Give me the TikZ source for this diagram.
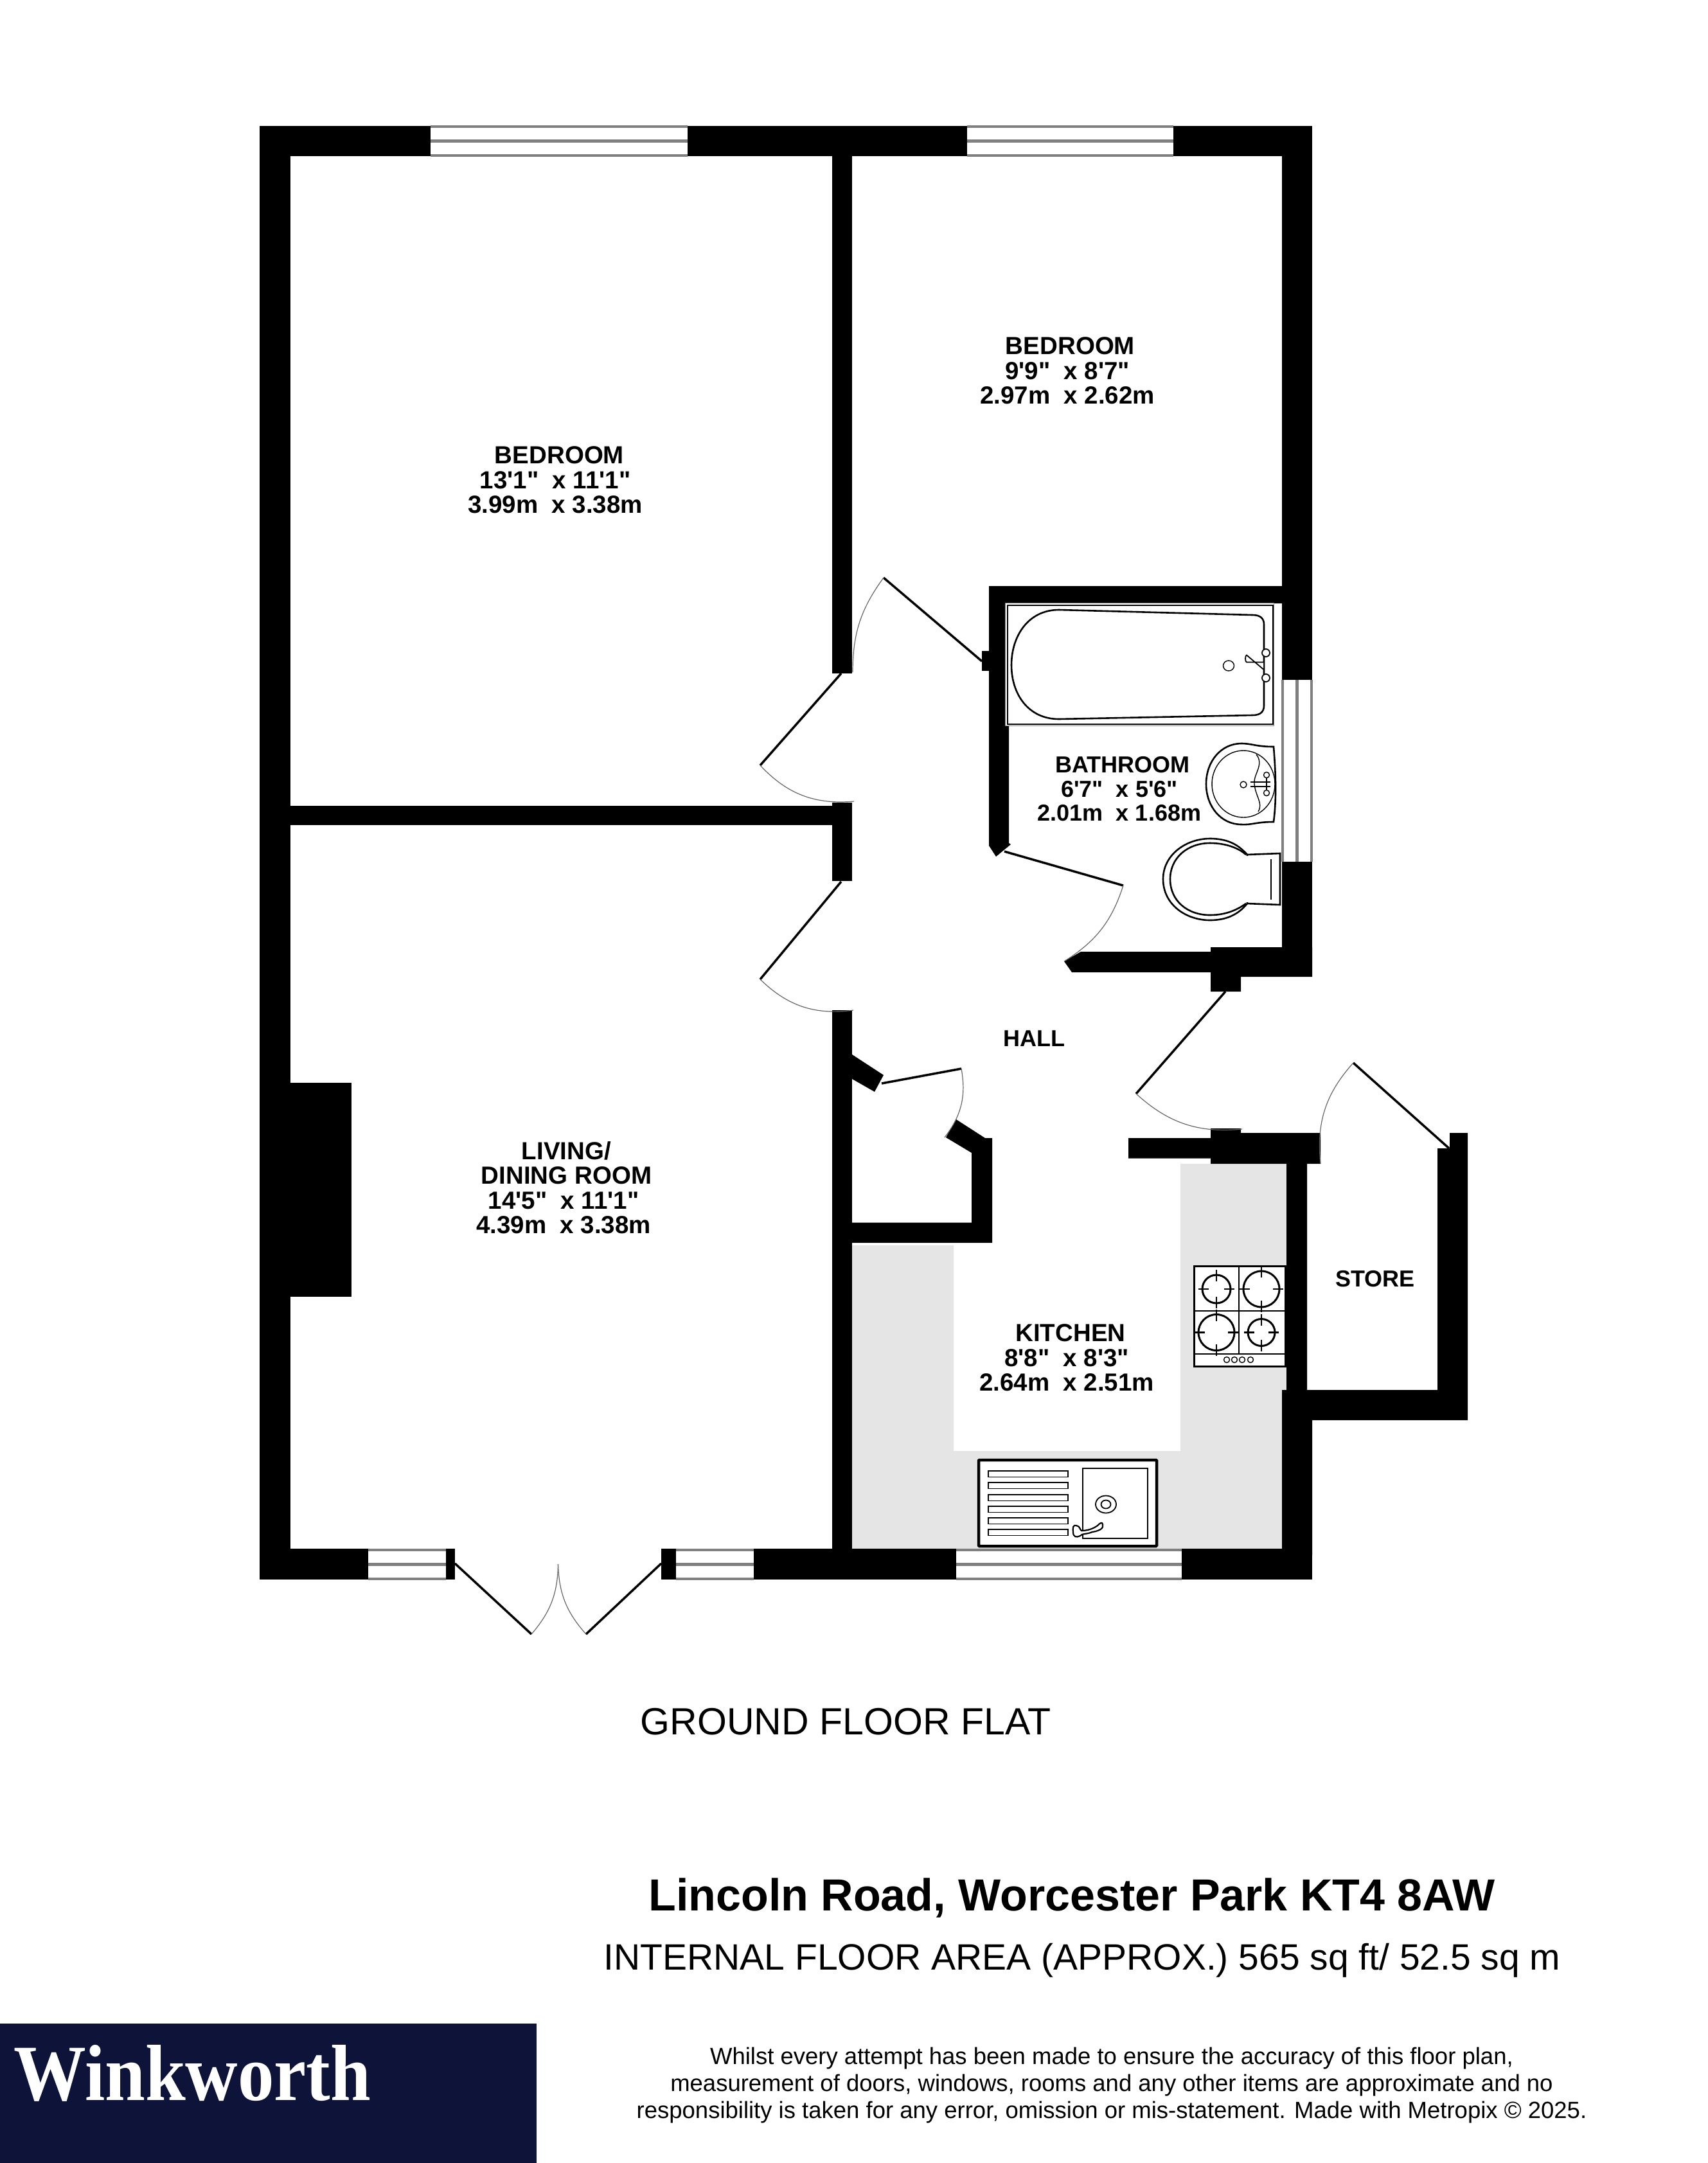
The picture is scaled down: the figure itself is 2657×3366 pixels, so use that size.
\documentclass[tikz,border=0pt]{standalone}
\usepackage{fontspec}
\usepackage{graphicx}
\setmainfont{Liberation Sans}
\newfontfamily\plainfont{Liberation Sans}
\newfontfamily\logofont{Liberation Serif}
\definecolor{navy}{HTML}{0E1339}
\definecolor{counter}{HTML}{E5E5E5}
\definecolor{glaze}{HTML}{808080}
\tikzset{
  wall/.style={fill=black},
  doorleaf/.style={draw=black,line width=3.5pt},
  doorarc/.style={draw=black!60,line width=1.2pt},
  glass/.style={draw=glaze,line width=4.5pt},
  fixture/.style={draw=black,line width=2.6pt},
  fixturethin/.style={draw=black,line width=1.4pt},
  roomlabel/.style={font=\fontsize{38.5}{38.5}\selectfont\plainfont\bfseries,align=center,inner sep=0pt},
  smalllabel/.style={font=\fontsize{36}{37.5}\selectfont\plainfont\bfseries,align=center,inner sep=0pt},
}
\newcommand{\hwindow}[3]{% x1,x2,ytop
  \fill[white] (#1,#3) rectangle (#2,#3+47);
  \draw[glass] (#1,#3+1) -- (#2,#3+1) (#1,#3+23.5) -- (#2,#3+23.5) (#1,#3+46) -- (#2,#3+46);
}
\begin{document}
\begin{tikzpicture}[x=1pt,y=-1pt]
\useasboundingbox (0,0) rectangle (2657,3366);
\fill[white] (0,0) rectangle (2657,3366);
% counters
\fill[counter] (1326,1938) -- (1484,1938) -- (1484,2258) -- (1837,2258) -- (1837,1811) -- (2002,1811) -- (2002,2163) -- (1995,2163) -- (1995,2410) -- (1326,2410) -- cycle;
% outer walls
\fill[wall] (404,196) rectangle (670,243);
\fill[wall] (1070,196) rectangle (1505,243);
\fill[wall] (1826,196) rectangle (2042,243);
\fill[wall] (404,196) rectangle (452,2458);
\fill[wall] (404,2410) rectangle (573,2458);
\fill[wall] (694,2410) rectangle (708,2458);
\fill[wall] (1029,2410) rectangle (1052,2458);
\fill[wall] (1173,2410) rectangle (1488,2458);
\fill[wall] (1839,2410) rectangle (2042,2458);
\fill[wall] (1995,196) rectangle (2042,1058);
\fill[wall] (1995,1341) rectangle (2042,1520);
% inner walls
\fill[wall] (1295,243) rectangle (1326,1048);
\fill[wall] (452,1254) rectangle (1295,1284);
\fill[wall] (1295,1249) rectangle (1326,1371);
\fill[wall] (1295,1572) rectangle (1326,2410);
\fill[wall] (547,1685) rectangle (452,2018);
% bathroom walls
\fill[wall] (1539,912) rectangle (1995,939);
\fill[wall] (1539,912) -- (1570,912) -- (1570,1312) -- (1573,1314) -- (1550,1333) -- (1539,1316) -- cycle;
\fill[wall] (1528,1013) rectangle (1539,1044);
\fill[wall] (1682,1481) -- (1884,1481) -- (1884,1474) -- (2042,1474) -- (2042,1520) -- (1931,1520) -- (1931,1543) -- (1884,1543) -- (1884,1513) -- (1668,1513) -- (1656,1496) -- cycle;
% cupboard walls
\fill[wall] (1326,1641) -- (1375,1673) -- (1361,1699) -- (1326,1679) -- cycle;
\fill[wall] (1488,1742) -- (1533,1771) -- (1544,1771) -- (1544,1934) -- (1326,1934) -- (1326,1902.5) -- (1512,1902.5) -- (1512,1794) -- (1472,1770) -- cycle;
% kitchen top / store walls
\fill[wall] (1756,1771) -- (1884,1771) -- (1884,1756) -- (1931,1756) -- (1931,1763) -- (2055,1763) -- (2055,1811) -- (2034,1811) -- (2034,2163) -- (2237,2163) -- (2237,1787) -- (2256,1787) -- (2256,1763) -- (2284,1763) -- (2284,2210) -- (2042,2210) -- (2042,2420) -- (1995,2420) -- (1995,2163) -- (2002,2163) -- (2002,1811) -- (1884,1811) -- (1884,1802.5) -- (1756,1802.5) -- cycle;
% windows
\hwindow{670}{1070}{196}
\hwindow{1505}{1826}{196}
\hwindow{573}{694}{2411}
\hwindow{1052}{1173}{2411}
\hwindow{1488}{1839}{2411}
\fill[white] (1995,1058) rectangle (2042,1341);
\draw[glass] (1996,1058) -- (1996,1341) (2018.5,1058) -- (2018.5,1341) (2041,1058) -- (2041,1341);
% doors
\coordinate (d1h) at (1309,1048); \coordinate (d1t) at (1183,1191); \coordinate (d1e) at (1329,1247);
\draw[doorleaf] (d1h) -- (d1t); \draw[doorarc] (d1t) to[bend right=26] (d1e);
\coordinate (d2h) at (1528,1029); \coordinate (d2t) at (1375,899); \coordinate (d2e) at (1327,1046);
\draw[doorleaf] (d2h) -- (d2t); \draw[doorarc] (d2t) to[bend right=18] (d2e);
\coordinate (d3h) at (1563,1325); \coordinate (d3t) at (1748,1378); \coordinate (d3e) at (1656,1496);
\draw[doorleaf] (d3h) -- (d3t); \draw[doorarc] (d3t) to[bend left=20] (d3e);
\coordinate (d4h) at (1309,1372); \coordinate (d4t) at (1183,1524); \coordinate (d4e) at (1328,1572);
\draw[doorleaf] (d4h) -- (d4t); \draw[doorarc] (d4t) to[bend right=26] (d4e);
\coordinate (d5h) at (1372,1686); \coordinate (d5t) at (1496,1663); \coordinate (d5e) at (1470,1770);
\draw[doorleaf] (d5h) -- (d5t); \draw[doorarc] (d5t) to[bend left=24] (d5e);
\coordinate (d6h) at (1907,1543); \coordinate (d6t) at (1768,1702); \coordinate (d6e) at (1933,1757);
\draw[doorleaf] (d6h) -- (d6t); \draw[doorarc] (d6t) to[bend right=24] (d6e);
\coordinate (d7h) at (2255,1787); \coordinate (d7t) at (2106,1654); \coordinate (d7e) at (2055,1811);
\draw[doorleaf] (d7h) -- (d7t); \draw[doorarc] (d7t) to[bend right=24] (d7e);
\coordinate (d8h) at (708,2433); \coordinate (d8t) at (827,2543); \coordinate (d8e) at (868.5,2434);
\draw[doorleaf] (d8h) -- (d8t); \draw[doorarc] (d8t) to[bend right=20] (d8e);
\coordinate (d9h) at (1029,2433); \coordinate (d9t) at (912,2543);
\draw[doorleaf] (d9h) -- (d9t); \draw[doorarc] (d9t) to[bend left=20] (d8e);
% bath
\draw[draw=black!50,fill=white,line width=0.8pt] (1564,938.5) rectangle (1982,1129);
\draw[black,line width=1.5pt] (1568,942) rectangle (1981,1127);
\draw[fixture] (1648,949) .. controls (1600,949) and (1574,990) .. (1574,1035) .. controls (1574,1080) and (1600,1119) .. (1648,1119) -- (1949,1113) .. controls (1961,1113) and (1967,1108) .. (1967,1098) -- (1967,972) .. controls (1967,962) and (1961,957) .. (1949,957) -- cycle;
\draw[fixturethin] (1912,1036) ellipse (8.5 and 8);
\draw[line width=1.8pt,fill=white] (1966,1030.5) -- (1940,1030.5) arc (90:270:2 and 5.5) -- (1966,1041.5);
\draw[line width=1.8pt,fill=white] (1970,1016) circle (6);
\draw[line width=1.8pt,fill=white] (1970,1055) circle (6);
% basin
\draw[fixture,fill=white] (1932,1157) .. controls (1948,1157) and (1955,1162) .. (1982,1162) .. controls (1985,1200) and (1987,1240) .. (1982,1279) .. controls (1955,1279) and (1948,1284) .. (1932,1283) .. controls (1900,1283) and (1877,1255) .. (1877,1220) .. controls (1877,1185) and (1900,1157) .. (1932,1157) -- cycle;
\draw[fixturethin] (1935,1220) ellipse (49 and 52);
\draw[fixturethin] (1955,1174) .. controls (1968,1190) and (1950,1205) .. (1952,1220) .. controls (1954,1240) and (1966,1250) .. (1958,1263);
\draw[fixturethin] (1935,1221) circle (5);
\draw[fixturethin] (1946,1217) -- (1977,1217) (1946,1224) -- (1977,1224) (1971,1206) -- (1971,1234);
\draw[fixturethin,fill=white] (1971,1206) circle (4.5);
\draw[fixturethin,fill=white] (1971,1234) circle (4.5);
% toilet
\draw[fixture,fill=white] (1940,1330) -- (1992,1328) -- (1992,1408) -- (1940,1406) -- cycle;
\draw[fixture,fill=white] (1883,1305) .. controls (1846,1305) and (1810,1330) .. (1810,1368) .. controls (1810,1408) and (1846,1432) .. (1883,1432) .. controls (1915,1432) and (1931,1418) .. (1941,1406) -- (1941,1330) .. controls (1930,1318) and (1915,1305) .. (1883,1305) -- cycle;
\draw[fixture] (1883,1312) .. controls (1848,1312) and (1821,1335) .. (1821,1368) .. controls (1821,1402) and (1848,1424) .. (1883,1424) .. controls (1910,1424) and (1928,1414) .. (1939,1406);
\draw[fixture] (1883,1312) .. controls (1908,1312) and (1928,1320) .. (1939,1330);
\fill[white] (1936,1332) rectangle (1944,1404);
\draw[fixturethin] (1978,1337) -- (1978,1400);
% cooker
\draw[line width=3pt,fill=white] (1858,1970) rectangle (2000,2126.5);
\draw[fixture] (1928,1970) -- (1928,2107) (1858,2040) -- (2000,2040) (1858,2107) -- (2000,2107);
\foreach \cx/\cy/\cr in {1893/2006/22,1963/2006/28,1893/2073.5/28,1963/2073.5/21}{
  \draw[line width=3pt,fill=white] (\cx,\cy) circle (\cr);
  \draw[fixture] (\cx,\cy-\cr-8) -- (\cx,\cy-\cr+10) (\cx,\cy+\cr-10) -- (\cx,\cy+\cr+8) (\cx-\cr-6,\cy) -- (\cx-\cr+10,\cy) (\cx+\cr-10,\cy) -- (\cx+\cr+6,\cy);
}
\foreach \kx in {1909,1921,1933,1946}{\draw[fixturethin] (\kx,2116) circle (4.5);}
% sink
\draw[line width=4.5pt,fill=white,rounded corners=1pt] (1523,2272) rectangle (1800,2406);
\foreach \by in {2289,2307,2326,2344,2362,2380}{\draw[line width=1.8pt] (1538,\by) rectangle (1662,\by+9.5);}
\draw[line width=1.8pt] (1685,2285) rectangle (1786,2394);
\draw[line width=1.8pt] (1721,2341) ellipse (16 and 13.5);
\draw[line width=1.8pt] (1721,2341) ellipse (7.5 and 6.5);
\draw[line width=2.2pt,fill=white] (1675,2374) .. controls (1670,2372) and (1669,2378) .. (1670,2384) .. controls (1670,2392) and (1675,2393) .. (1681,2390) .. controls (1684,2386) and (1690,2388) .. (1700,2384) .. controls (1712,2382) and (1718,2378) .. (1716,2372) .. controls (1715,2368) and (1712,2370) .. (1708,2374) .. controls (1700,2380) and (1690,2382) .. (1683,2382) .. controls (1680,2380) and (1681,2375) .. (1675,2374) -- cycle;
% room labels
\node[roomlabel] (bed1) at (864,747) {\hspace*{13pt}BEDROOM\\13'1"\ \ x 11'1"\\3.99m\ \ x 3.38m};
\node[roomlabel] (bed2) at (1661,577) {\hspace*{9pt}BEDROOM\\9'9"\ \ x 8'7"\\2.97m\ \ x 2.62m};
\node[smalllabel] (bath) at (1742,1228) {\hspace*{10pt}BATHROOM\\6'7"\ \ x 5'6"\\2.01m\ \ x 1.68m};
\node[roomlabel] (living) at (877,1848) {\hspace*{9pt}LIVING/\\\hspace*{9pt}DINING ROOM\\14'5"\ \ x 11'1"\\4.39m\ \ x 3.38m};
\node[smalllabel] (hall) at (1609,1616) {HALL};
\node[roomlabel] (kitchen) at (1660,2113) {\hspace*{12pt}KITCHEN\\8'8"\ \ x 8'3"\\2.64m\ \ x 2.51m};
\node[smalllabel] (store) at (2140,1990) {STORE};
% captions
\node[inner sep=0pt,font=\fontsize{59}{60}\selectfont] (floor) at (1316,2679) {GROUND FLOOR FLAT};
\node[inner sep=0pt,font=\fontsize{70}{72}\selectfont\bfseries] (addr) at (1668,2954) {Lincoln Road, Worcester Park KT4 8AW};
\node[inner sep=0pt,font=\fontsize{57}{60}\selectfont] (area) at (1684,3051) {INTERNAL FLOOR AREA (APPROX.) 565 sq ft/ 52.5 sq m};
\node[inner sep=0pt,align=center,font=\fontsize{36.5}{42}\selectfont] (note) at (1730,3245) {Whilst every attempt has been made to ensure the accuracy of this floor plan,\\measurement of doors, windows, rooms and any other items are approximate and no\\responsibility is taken for any error, omission or mis-statement. Made with Metropix © 2025.};
% logo
\fill[navy] (0,3149) rectangle (835,3366);
\node[inner sep=0pt,anchor=base west,text=white,font=\fontsize{124}{124}\selectfont\logofont\bfseries] (logo) at (21,3268) {\scalebox{.91}[1]{Winkworth}};
\end{tikzpicture}
\end{document}
